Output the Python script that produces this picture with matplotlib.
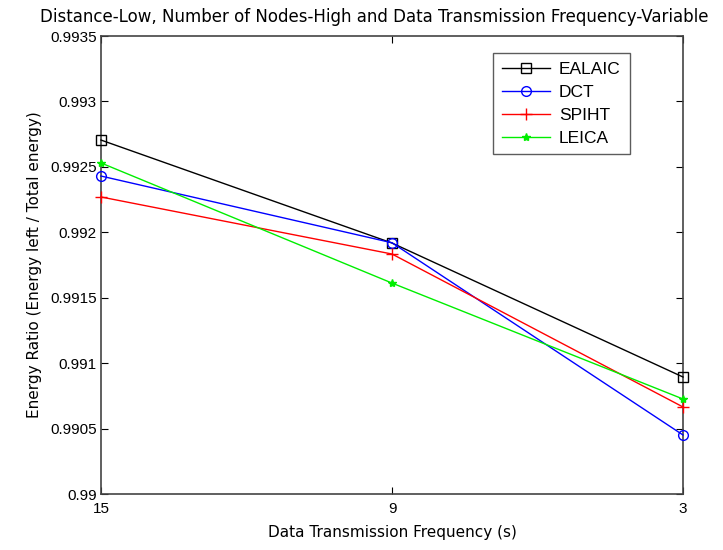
#!/usr/bin/env python3
import matplotlib
matplotlib.use("Agg")
import matplotlib.pyplot as plt

# data
freq = [15, 9, 3]
ealaic = [0.992705, 0.991918, 0.990894]
dct    = [0.992430, 0.991920, 0.990451]
spiht  = [0.992270, 0.991834, 0.990665]
leica  = [0.992530, 0.991612, 0.990726]
yticks = [0.99, 0.9905, 0.991, 0.9915, 0.992, 0.9925, 0.993, 0.9935]
ytick_labels = ["0.99", "0.9905", "0.991", "0.9915", "0.992", "0.9925", "0.993", "0.9935"]

fig = plt.figure(figsize=(7.23, 5.5), dpi=100)
ax = fig.add_axes([0.1397, 0.1018, 0.805, 0.8327])

style = dict(lw=1, clip_on=False, zorder=3)
ax.plot(freq, ealaic, color="k", marker="s", mfc="none", ms=7, label="EALAIC", **style)
ax.plot(freq, dct, color="b", marker="o", mfc="none", ms=7, label="DCT", **style)
ax.plot(freq, spiht, color="r", marker="+", ms=8, label="SPIHT", **style)
ax.plot(freq, leica, color="#00ee00", marker="*", ms=6, label="LEICA", **style)

ax.set_xlim(15, 3)
ax.set_ylim(0.99, 0.9935)
ax.set_xticks(freq)
ax.set_xticklabels([str(f) for f in freq], fontsize=11, family="Liberation Sans")
ax.set_yticks(yticks)
ax.set_yticklabels(ytick_labels, fontsize=11, family="Liberation Sans")
ax.tick_params(direction="in", top=True, right=True, length=5, width=0.8)
ax.tick_params(axis="x", pad=6)
ax.tick_params(axis="y", pad=3)
for s in ax.spines.values():
    s.set_linewidth(1.2)
    s.set_color("#444444")

ax.set_xlabel("Data Transmission Frequency (s)", fontsize=11, labelpad=6)
ax.set_ylabel("Energy Ratio (Energy left / Total energy)", fontsize=11, labelpad=6)
ax.set_title("Distance-Low, Number of Nodes-High and Data Transmission Frequency-Variable",
             fontsize=12, pad=10, x=0.47)

leg = ax.legend(loc="upper right", bbox_to_anchor=(0.923, 0.982), fancybox=False,
                edgecolor="#333333", prop={"family": "Liberation Sans", "size": 12.5},
                handlelength=2.8, borderpad=0.5, labelspacing=0.45, handletextpad=0.5)
leg.get_frame().set_linewidth(1.0)

fig.savefig("out.png", dpi=100)
